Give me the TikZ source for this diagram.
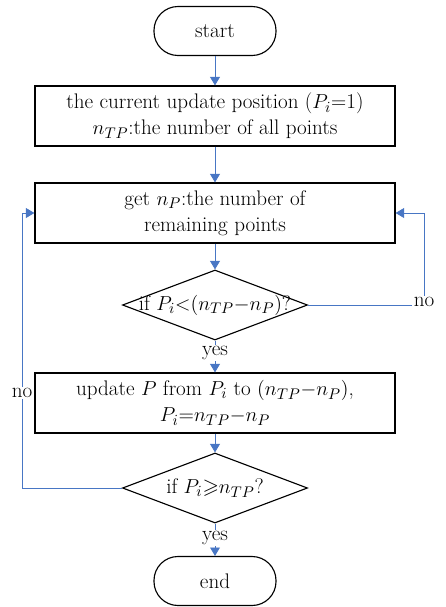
\documentclass[tikz,border=0pt]{standalone}
\usepackage{amsmath, amssymb}
\usepackage{tikz}
\usepackage{xcolor}
\usetikzlibrary{shapes.geometric, arrows.meta}

\definecolor{flowblue}{RGB}{72,118,196}

\tikzset{
    terminal/.style={draw, thick, rounded corners=0.6cm, minimum width=3.05cm, minimum height=1.225cm},
    process/.style={draw, thick, minimum width=9cm, minimum height=1.5cm, align=center},
    decision/.style={draw, thick, diamond, minimum width=4.625cm, minimum height=1.75cm, inner sep=0pt},
    flow/.style={-{Triangle[length=6pt, width=7pt]}, flowblue, semithick},
    link/.style={flowblue, semithick},
    tag/.style={inner sep=1pt}
}

\begin{document}
\begin{tikzpicture}[x=0.025cm, y=-0.025cm, font=\fontsize{15}{18.5}\selectfont]

    \useasboundingbox (0,0) rectangle (446,607);

    % Blocs
    \node[terminal] (start) at (215,31) {start};
    \node[process] (init) at (215,116) {the current update position ($P_i$=1)\\ $n_{TP}$:the number of all points};
    \node[process] (remain) at (215,213) {get $n_P$:the number of\\ remaining points};
    \node[decision, label=center:{if $P_i{<}(n_{TP}{-}n_P)$?}] (test1) at (215,305) {};
    \node[process] (update) at (215,403) {update $P$ from $P_i$ to $(n_{TP}{-}n_P)$,\\ $P_i{=}n_{TP}{-}n_P$};
    \node[decision, label=center:{if $P_i{\geqslant}n_{TP}$?}] (test2) at (215,488) {};
    \node[terminal] (end) at (215,581) {end};

    % Etiquettes
    \node[tag] (yesA) at (215,353) {yes};
    \node[tag] (yesB) at (215,538) {yes};
    \node[tag] (noA) at (424,302) {no};
    \node[tag] (noB) at (22,393) {no};

    % Fleches
    \draw[flow] (start) -- (init);
    \draw[flow] (init) -- (remain);
    \draw[flow] (remain) -- (test1);
    \draw[link] (test1) -- (yesA);
    \draw[flow] (yesA) -- (update);
    \draw[flow] (update) -- (test2);
    \draw[link] (test2) -- (yesB);
    \draw[flow] (yesB) -- (end);

    % Boucles
    \draw[link] (test1.east) -- (test1.east -| noA.west);
    \draw[flow] (noA.north) |- (remain.east);
    \draw[link] (test2.west) -| (noB.south);
    \draw[flow] (noB.north) |- (remain.west);

\end{tikzpicture}
\end{document}
